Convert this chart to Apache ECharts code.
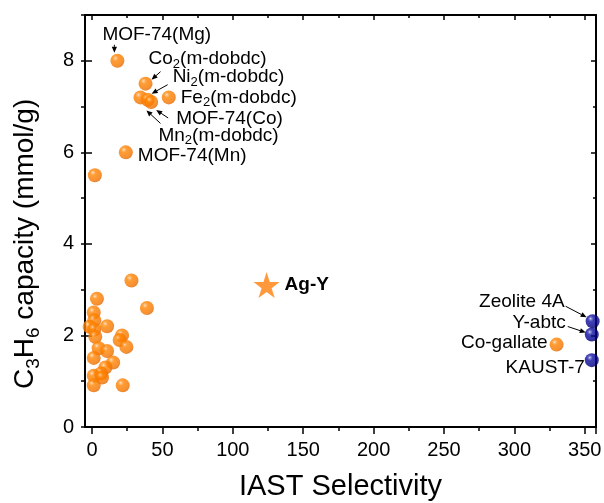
<!DOCTYPE html>
<html>
<head>
<meta charset="utf-8">
<script src="https://cdn.jsdelivr.net/npm/echarts@6/dist/echarts.min.js"></script>
<style>
  html, body { margin: 0; padding: 0; background: #fff; }
  #chart { width: 604px; height: 503px; }
</style>
</head>
<body>
<div id="chart"></div>
<script>
// MOF points that carry a label
var namedNames = ['MOF-74(Mg)', 'Co{s|2}(m-dobdc)', 'Mn{s|2}(m-dobdc)', 'Ni{s|2}(m-dobdc)', 'MOF-74(Co)', 'Fe{s|2}(m-dobdc)', 'MOF-74(Mn)', 'Co-gallate'];
var namedX = [18, 38, 34.4, 39.5, 42, 54.5, 24, 330];
var namedY = [8.0, 7.5, 7.2, 7.15, 7.1, 7.2, 6.0, 1.8];
// other orange points
var otherX = [2, 3.5, 28, 39, 1.2, 1.6, -1.7, 1.6, 10.7, 2.3, 21.3, 19.6, 24.4, 4.7, 10.7, 1.2, 15, 9.5, 6.4, 1.2, 7.1, 1.2, 21.8];
var otherY = [5.5, 2.8, 3.2, 2.6, 2.5, 2.33, 2.19, 2.13, 2.2, 1.97, 2.0, 1.9, 1.75, 1.72, 1.66, 1.51, 1.41, 1.3, 1.17, 1.12, 1.08, 0.91, 0.91];
// blue points
var blueNames = ['Zeolite 4A', 'Y-abtc', 'KAUST-7'];
var blueX = [355.6, 355, 355];
var blueY = [2.31, 2.02, 1.46];
// Ag-Y
var agName = 'Ag-Y';
var agX = [124];
var agY = [3.1];
// axis ranges and tick steps
var xRange = [-5, 358];
var yRange = [0, 9];
var xStep = 50;
var yStep = 2;

var FONT = '"Liberation Sans", Arial, sans-serif';
var myChart = echarts.init(document.getElementById('chart'));

function pairs(xs, ys) {
  return xs.map(function(x, i) { return [x, ys[i]]; });
}

var orangeBall = {
  type: 'radial', x: 0.36, y: 0.32, r: 0.7,
  colorStops: [
    {offset: 0, color: '#fff2e0'},
    {offset: 0.1, color: '#ffb060'},
    {offset: 0.3, color: '#ff8400'},
    {offset: 0.8, color: '#f57600'},
    {offset: 1, color: '#e06600'}
  ]
};
var blueBall = {
  type: 'radial', x: 0.36, y: 0.32, r: 0.7,
  colorStops: [
    {offset: 0, color: '#e8e8ff'},
    {offset: 0.1, color: '#6a6ad0'},
    {offset: 0.3, color: '#1010a0'},
    {offset: 0.8, color: '#00008a'},
    {offset: 1, color: '#000066'}
  ]
};

// plot box
var G = {left: 85, right: 8, top: 15, bottom: 76};
var W = 604 - G.left - G.right, H = 503 - G.top - G.bottom;
// grid 1 starts at x = 0 so ticks fall on multiples of xStep
var g1Left = G.left + (0 - xRange[0]) * W / (xRange[1] - xRange[0]);
// grid 2 ends at the last major y tick
var yTop = Math.floor(yRange[1] / yStep) * yStep;
var g2Top = G.top + (yRange[1] - yTop) * H / (yRange[1] - yRange[0]);

var LINE = {color: '#000', width: 2};
var TICK = {color: '#000', width: 1.5};
var NOLINE = {show: false};
var NOLABEL = {show: false};

function hidden(grid, range) {
  return {type: 'value', gridIndex: grid, min: range[0], max: range[1], show: false};
}

var option = {
  animation: false,
  backgroundColor: '#fff',
  grid: [
    Object.assign({containLabel: false, outerBoundsMode: 'none'}, G),
    {left: g1Left, right: G.right, top: G.top, bottom: G.bottom, containLabel: false, outerBoundsMode: 'none'},
    {left: G.left, right: G.right, top: g2Top, bottom: G.bottom, containLabel: false, outerBoundsMode: 'none'}
  ],
  xAxis: [
    // 0: bottom frame line + title
    {type: 'value', gridIndex: 0, min: xRange[0], max: xRange[1], position: 'bottom',
      axisLine: {show: true, onZero: false, lineStyle: LINE}, axisTick: {show: false},
      axisLabel: NOLABEL, splitLine: {show: false},
      name: 'IAST Selectivity', nameLocation: 'middle', nameGap: 45,
      nameTextStyle: {fontSize: 29, color: '#000', fontFamily: FONT}},
    // 1: top frame line
    {type: 'value', gridIndex: 0, min: xRange[0], max: xRange[1], position: 'top',
      axisLine: {show: true, onZero: false, lineStyle: LINE}, axisTick: {show: false},
      axisLabel: NOLABEL, splitLine: {show: false}},
    // 2: bottom ticks and labels
    {type: 'value', gridIndex: 1, min: 0, max: xRange[1], interval: xStep, position: 'bottom',
      axisLine: NOLINE,
      axisTick: {show: true, inside: false, length: 7, lineStyle: TICK},
      minorTick: {show: true, splitNumber: 2, length: 4, lineStyle: TICK},
      axisLabel: {show: true, fontSize: 20, color: '#000', fontFamily: FONT, margin: 13,
        showMaxLabel: false, showMinLabel: true},
      splitLine: {show: false}},
    // 3: top ticks
    {type: 'value', gridIndex: 1, min: 0, max: xRange[1], interval: xStep, position: 'top',
      axisLine: NOLINE,
      axisTick: {show: true, inside: true, length: 5, lineStyle: TICK},
      minorTick: {show: true, splitNumber: 2, length: 3, lineStyle: TICK},
      axisLabel: NOLABEL, splitLine: {show: false}},
    hidden(2, xRange)
  ],
  yAxis: [
    // 0: left frame line + minor ticks
    {type: 'value', gridIndex: 0, min: yRange[0], max: yRange[1], interval: yStep / 2, position: 'left',
      axisLine: {show: true, onZero: false, lineStyle: LINE},
      axisTick: {show: true, inside: false, length: 4, lineStyle: TICK},
      axisLabel: NOLABEL, splitLine: {show: false}},
    // 1: right frame line + minor ticks
    {type: 'value', gridIndex: 0, min: yRange[0], max: yRange[1], interval: yStep / 2, position: 'right',
      axisLine: {show: true, onZero: false, lineStyle: LINE},
      axisTick: {show: true, inside: true, length: 3, lineStyle: TICK},
      axisLabel: NOLABEL, splitLine: {show: false}},
    hidden(1, yRange),
    // 3: left major ticks, labels, title
    {type: 'value', gridIndex: 2, min: yRange[0], max: yTop, interval: yStep, position: 'left',
      axisLine: NOLINE,
      axisTick: {show: true, inside: false, length: 7, lineStyle: TICK},
      axisLabel: {show: true, fontSize: 20, color: '#000', fontFamily: FONT, margin: 11},
      splitLine: {show: false},
      name: 'C{s|3}H{s|6} capacity (mmol/g)', nameLocation: 'middle', nameGap: 42,
      nameTextStyle: {
        fontSize: 28, color: '#000', fontFamily: FONT,
        rich: {s: {fontSize: 19, color: '#000', fontFamily: FONT, padding: [16, 0, 0, 0]}}
      }},
    // 4: right major ticks
    {type: 'value', gridIndex: 2, min: yRange[0], max: yTop, interval: yStep, position: 'right',
      axisLine: NOLINE,
      axisTick: {show: true, inside: true, length: 5, lineStyle: TICK},
      axisLabel: NOLABEL, splitLine: {show: false}}
  ],
  series: [
    // invisible holders so every tick axis carries data
    {type: 'scatter', xAxisIndex: 1, yAxisIndex: 1, silent: true, symbolSize: 0, data: pairs(agX, agY)},
    {type: 'scatter', xAxisIndex: 2, yAxisIndex: 2, silent: true, symbolSize: 0, data: pairs(agX, agY)},
    {type: 'scatter', xAxisIndex: 3, yAxisIndex: 2, silent: true, symbolSize: 0, data: pairs(agX, agY)},
    {type: 'scatter', xAxisIndex: 4, yAxisIndex: 3, silent: true, symbolSize: 0, data: pairs(agX, agY)},
    {type: 'scatter', xAxisIndex: 4, yAxisIndex: 4, silent: true, symbolSize: 0, data: pairs(agX, agY)},
    {
      type: 'scatter', name: 'other', data: pairs(otherX, otherY),
      symbolSize: 14, clip: false, itemStyle: {color: orangeBall}
    },
    {
      type: 'scatter', name: 'named', data: pairs(namedX, namedY),
      symbolSize: 14, clip: false, itemStyle: {color: orangeBall}
    },
    {
      type: 'scatter', name: 'blue', data: pairs(blueX, blueY),
      symbolSize: 14, clip: false, itemStyle: {color: blueBall}
    },
    {
      type: 'scatter', name: agName, data: pairs(agX, agY),
      symbol: 'path://M50,0 L61.8,35.5 L99,35.5 L69,57.5 L80.5,93 L50,71 L19.5,93 L31,57.5 L1,35.5 L38.2,35.5 Z',
      symbolSize: 26, clip: false, itemStyle: {color: '#ff800a'}
    }
  ]
};
myChart.setOption(option);

// label offsets (px) from their point, plus optional arrow [start, end]
var notes = [
  {set: 'n', i: 0, dx: -15, dy: -26, align: 'left', arrow: [[-3, -16], [-3, -8]]},
  {set: 'n', i: 1, dx: 3, dy: -25, align: 'left', arrow: [[15, -12], [6, -4]]},
  {set: 'n', i: 2, dx: 18, dy: 38, align: 'left', arrow: [[20, 26], [6, 13]]},
  {set: 'n', i: 3, dx: 25, dy: -23, align: 'left', arrow: [[20, -15], [4, -6]]},
  {set: 'n', i: 4, dx: 25, dy: 17, align: 'left', arrow: [[17, 16], [5, 8]]},
  {set: 'n', i: 5, dx: 12, dy: 0, align: 'left'},
  {set: 'n', i: 6, dx: 12, dy: 3, align: 'left'},
  {set: 'n', i: 7, dx: -9, dy: -2, align: 'right'},
  {set: 'b', i: 0, dx: -28, dy: -19, align: 'right', arrow: [[-27, -15], [-6, -4]]},
  {set: 'b', i: 1, dx: -26, dy: -12, align: 'right', arrow: [[-24, -8], [-6, -2]]},
  {set: 'b', i: 2, dx: -7, dy: 8, align: 'right'},
  {set: 'a', i: 0, dx: 18, dy: 0, align: 'left', bold: true}
];

var gfx = [];
notes.forEach(function(n) {
  var xs = n.set === 'n' ? namedX : n.set === 'b' ? blueX : agX;
  var ys = n.set === 'n' ? namedY : n.set === 'b' ? blueY : agY;
  var txt = n.set === 'n' ? namedNames[n.i] : n.set === 'b' ? blueNames[n.i] : agName;
  var p = myChart.convertToPixel({gridIndex: 0}, [xs[n.i], ys[n.i]]);
  gfx.push({
    type: 'text', x: p[0] + n.dx, y: p[1] + n.dy, z: 10,
    style: {
      text: txt, fill: '#000', fontSize: 19, fontFamily: FONT,
      fontWeight: n.bold ? 'bold' : 'normal',
      align: n.align, verticalAlign: 'middle',
      rich: {s: {fontSize: 13, fill: '#000', fontFamily: FONT, padding: [11, 0, 0, 0]}}
    }
  });
  if (n.arrow) {
    var x1 = p[0] + n.arrow[0][0], y1 = p[1] + n.arrow[0][1];
    var x2 = p[0] + n.arrow[1][0], y2 = p[1] + n.arrow[1][1];
    var ang = Math.atan2(y2 - y1, x2 - x1);
    var L = 6, AW = 2.6;
    var bx = x2 - L * Math.cos(ang), by = y2 - L * Math.sin(ang);
    gfx.push({
      type: 'line', z: 10,
      shape: {x1: x1, y1: y1, x2: bx, y2: by},
      style: {stroke: '#000', lineWidth: 1}
    });
    gfx.push({
      type: 'polygon', z: 10,
      shape: {points: [
        [x2, y2],
        [bx + AW * Math.sin(ang), by - AW * Math.cos(ang)],
        [bx - AW * Math.sin(ang), by + AW * Math.cos(ang)]
      ]},
      style: {fill: '#000'}
    });
  }
});
myChart.setOption({graphic: gfx});
</script>
</body>
</html>
